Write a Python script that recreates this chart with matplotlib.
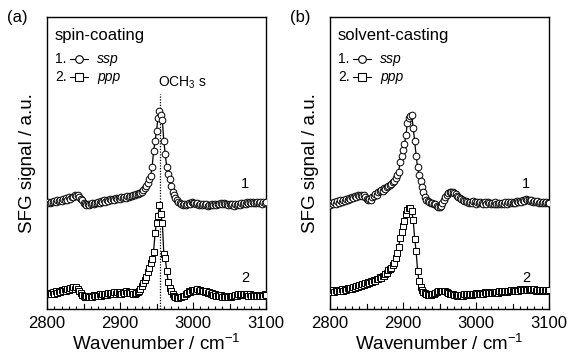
import numpy as np
import matplotlib
matplotlib.use("Agg")
import matplotlib.pyplot as plt
import matplotlib.ticker as mticker

plt.rcParams['font.family'] = ['Liberation Sans', 'DejaVu Sans']
plt.rcParams['mathtext.fontset'] = 'custom'
plt.rcParams['mathtext.rm'] = 'Liberation Sans'
plt.rcParams['mathtext.it'] = 'Liberation Sans:italic'

# wavenumber grid, 2 cm-1 step (2800 ... 3100)
wavenumber = np.arange(2800, 3101, 2)

# (a) spin-coating, offset intensities (a.u.)
spin_ssp = [
    36.2, 36.5, 36.3, 36.8, 36.6, 37.0, 36.7, 37.2, 36.9, 37.4,
    37.1, 37.6, 37.3, 37.9, 37.5, 38.2, 37.8, 38.5, 38.3, 38.9,
    38.6, 39.0, 38.4, 37.8, 37.2, 36.4, 36.0, 35.6, 35.9, 35.5,
    36.0, 36.3, 35.9, 36.4, 36.2, 36.7, 36.4, 36.9, 36.6, 37.2,
    36.8, 37.4, 37.1, 37.6, 37.3, 37.8, 37.4, 37.9, 37.6, 38.0,
    37.7, 38.2, 37.9, 38.4, 38.1, 38.6, 38.3, 38.8, 38.6, 39.1,
    39.0, 39.4, 39.3, 39.7, 39.7, 40.2, 40.6, 41.3, 42.2, 43.3,
    44.5, 45.6, 48.6, 54.0, 57.5, 61.0, 65.4, 67.8, 66.5, 64.7,
    57.5, 53.0, 48.6, 46.3, 44.6, 42.2, 40.2, 38.9, 38.0, 37.2,
    36.6, 36.2, 35.8, 35.5, 35.9, 35.6, 36.0, 36.3, 36.1, 36.5,
    36.2, 36.4, 35.9, 36.2, 35.7, 36.0, 35.6, 35.9, 35.5, 35.8,
    35.4, 35.7, 35.5, 35.9, 35.6, 36.0, 35.7, 36.1, 35.8, 36.2,
    35.9, 36.3, 35.8, 36.1, 35.6, 35.9, 35.5, 35.8, 35.4, 35.8,
    35.6, 36.0, 35.7, 36.2, 35.9, 36.4, 36.1, 36.5, 36.2, 36.6,
    36.3, 36.7, 36.4, 36.3, 36.6, 36.2, 36.5, 36.1, 36.6, 36.3,
    36.7]

spin_ppp = [
    5.4, 5.0, 5.6, 5.1, 5.8, 5.3, 6.0, 5.5, 6.2, 5.8,
    6.4, 6.0, 6.7, 6.3, 6.9, 6.5, 7.1, 6.8, 7.4, 7.0,
    7.5, 6.8, 6.2, 5.4, 4.8, 4.5, 4.2, 4.6, 4.3, 4.1,
    4.5, 4.2, 4.7, 4.3, 4.8, 4.5, 5.0, 4.6, 5.2, 4.8,
    5.3, 4.9, 5.5, 5.1, 5.6, 5.2, 5.7, 5.3, 5.8, 5.4,
    5.7, 5.3, 5.9, 5.4, 6.0, 5.5, 5.9, 5.4, 5.8, 5.2,
    5.3, 5.5, 5.8, 6.2, 7.0, 7.9, 8.9, 10.0, 11.1, 12.6,
    14.2, 15.8, 17.0, 19.5, 26.0, 29.5, 31.8, 35.6, 32.5, 29.5,
    19.0, 17.5, 13.0, 9.2, 7.3, 6.2, 5.1, 4.5, 4.1, 3.8,
    3.8, 4.2, 4.0, 4.5, 4.3, 5.0, 5.4, 6.0, 5.8, 6.4,
    6.1, 6.6, 6.3, 6.7, 6.2, 6.5, 6.0, 6.3, 5.7, 6.1,
    5.5, 5.8, 5.2, 5.5, 4.9, 5.2, 4.6, 4.9, 4.3, 4.7,
    4.2, 4.5, 4.0, 4.4, 4.1, 4.5, 4.2, 4.6, 4.3, 4.8,
    4.5, 5.0, 4.7, 5.2, 4.8, 5.3, 4.9, 5.1, 4.6, 5.0,
    4.5, 4.9, 4.4, 4.8, 4.3, 4.7, 4.4, 4.9, 4.5, 5.0,
    4.7]

# (b) solvent-casting
cast_ssp = [
    35.6, 36.2, 35.9, 36.6, 36.1, 36.9, 36.4, 37.2, 36.7, 37.4,
    37.0, 37.8, 37.3, 38.1, 37.6, 38.5, 38.0, 38.8, 38.3, 39.1,
    38.7, 39.2, 38.6, 38.9, 38.2, 37.8, 37.4, 37.8, 37.3, 38.2,
    38.6, 39.4, 39.0, 39.9, 40.3, 40.8, 40.5, 41.3, 41.0, 41.8,
    42.0, 42.5, 42.9, 43.6, 44.0, 44.8, 45.8, 47.0, 50.4, 52.5,
    54.5, 56.5, 59.5, 63.8, 65.3, 66.2, 66.4, 62.0, 57.5, 52.5,
    48.5, 45.8, 43.9, 41.9, 40.0, 38.2, 37.4, 36.9, 36.6, 36.4,
    36.2, 36.0, 35.8, 35.3, 35.1, 35.0, 35.3, 36.2, 37.3, 38.5,
    39.2, 39.8, 40.2, 40.1, 39.9, 39.6, 39.3, 38.8, 38.4, 38.0,
    37.8, 37.4, 37.1, 36.9, 36.7, 36.3, 36.8, 36.4, 36.9, 36.5,
    36.1, 36.6, 36.2, 36.7, 36.3, 36.0, 36.5, 36.1, 36.6, 36.2,
    35.9, 36.4, 36.0, 36.5, 36.1, 35.8, 36.3, 35.9, 36.4, 36.0,
    36.5, 36.1, 36.6, 36.2, 36.7, 36.3, 36.8, 36.4, 36.9, 36.6,
    37.1, 36.8, 37.4, 37.0, 37.6, 37.2, 37.5, 37.0, 37.3, 36.8,
    37.1, 36.6, 36.9, 36.4, 36.8, 36.3, 36.7, 36.2, 36.6, 36.4,
    36.4]

cast_ppp = [
    6.3, 5.8, 6.4, 5.9, 6.5, 6.0, 6.6, 6.1, 6.7, 6.3,
    6.9, 6.5, 7.1, 6.7, 7.3, 7.0, 7.6, 7.3, 7.9, 7.6,
    8.2, 7.9, 8.5, 8.2, 8.8, 8.5, 9.1, 8.9, 9.5, 9.3,
    9.9, 9.7, 10.3, 10.2, 10.8, 10.7, 11.3, 11.4, 12.1, 12.5,
    13.2, 13.6, 14.2, 14.9, 15.8, 17.3, 19.1, 21.3, 24.2, 26.5,
    28.3, 30.0, 32.4, 33.8, 34.5, 34.6, 33.5, 30.5, 24.0, 19.8,
    13.0, 9.5, 7.5, 6.5, 5.9, 5.4, 5.0, 4.8, 4.7, 4.8,
    5.0, 5.2, 5.5, 5.7, 6.0, 6.2, 6.3, 6.3, 6.2, 6.0,
    5.7, 5.5, 5.3, 5.1, 5.0, 4.9, 4.7, 4.6, 4.8, 4.5,
    4.9, 4.6, 5.0, 4.7, 5.1, 4.8, 5.2, 4.9, 5.3, 5.0,
    5.4, 5.1, 5.5, 5.2, 5.6, 5.3, 5.7, 5.4, 5.8, 5.5,
    5.9, 5.5, 5.8, 5.4, 5.9, 5.6, 6.0, 5.7, 6.1, 5.8,
    6.2, 5.9, 6.3, 6.0, 6.4, 6.1, 6.5, 6.2, 6.6, 6.3,
    6.7, 6.4, 6.8, 6.5, 6.9, 6.6, 6.9, 6.5, 6.8, 6.4,
    6.7, 6.3, 6.6, 6.2, 6.5, 6.1, 6.5, 6.2, 6.6, 6.3,
    6.5]

panels = [
    ("(a)", "spin-coating", spin_ssp, spin_ppp),
    ("(b)", "solvent-casting", cast_ssp, cast_ppp),
]
curve_label_x = [3071, 3069]
och3_pos = 2955

fig = plt.figure(figsize=(5.7, 3.57), dpi=100)
lefts = [47 / 570, 330 / 570]

for k, (tag, title, ssp, ppp) in enumerate(panels):
    ax = fig.add_axes([lefts[k], 48 / 357, 219 / 570, 292 / 357])

    ax.plot(wavenumber, ssp, color="black", lw=0.9, marker="o", ms=4.8,
            mfc="white", mec="black", mew=0.7, zorder=3)
    ax.plot(wavenumber, ppp, color="black", lw=0.9, marker="s", ms=4.2,
            mfc="white", mec="black", mew=0.7, zorder=3)

    ax.set_xlim(2800, 3100)
    ax.set_ylim(0, 100)
    ax.xaxis.set_major_locator(mticker.MultipleLocator(100))
    ax.xaxis.set_minor_locator(mticker.MultipleLocator(10))
    ax.tick_params(axis="x", which="both", direction="in", top=False,
                   labelsize=12, pad=5, width=0.8)
    ax.tick_params(axis="x", which="major", length=5)
    ax.tick_params(axis="x", which="minor", length=2.5)
    # medium ticks at every 50
    for xm in [2850, 2950, 3050]:
        ax.plot([xm, xm], [0, 1.6], color="black", lw=0.8, zorder=2)
    ax.tick_params(axis="y", left=False, labelleft=False)
    for sp in ax.spines.values():
        sp.set_linewidth(1.0)

    ax.set_xlabel("Wavenumber / cm$^{\\mathregular{-1}}$", fontsize=13.5, labelpad=2)
    ax.set_ylabel("SFG signal / a.u.", fontsize=13.5, labelpad=8)

    # panel title and legend
    ax.text(0.0365, 0.938, title, transform=ax.transAxes, fontsize=12,
            va="center", ha="left")
    rows = [(0.855, "1.", "o", "ssp"), (0.793, "2.", "s", "ppp")]
    for yr, num, mk, name in rows:
        ax.text(0.0365, yr, num, transform=ax.transAxes, fontsize=10,
                va="center", ha="left")
        ax.plot([0.105, 0.187], [yr, yr], transform=ax.transAxes,
                color="black", lw=0.8, clip_on=False)
        ax.plot([0.146], [yr], transform=ax.transAxes, marker=mk, ms=5.5,
                mfc="white", mec="black", mew=0.8, clip_on=False)
        ax.text(0.228, yr, name, transform=ax.transAxes, fontsize=10,
                style="italic", va="center", ha="left")

    ax.text(curve_label_x[k], 42.8, "1", fontsize=10.5, ha="center", va="center")
    ax.text(curve_label_x[k], 10.6, "2", fontsize=10.5, ha="center", va="center")

    if k == 0:
        ax.plot([och3_pos, och3_pos], [0, 73.5], color="black", lw=0.9,
                ls=(0, (1, 1.2)), zorder=1)
        ax.text(och3_pos - 3, 74.5, "OCH$_{\\mathregular{3}}$ s", fontsize=10,
                ha="left", va="bottom")

    fig.text(lefts[k] - 40 / 570, 0.95, tag, fontsize=12, ha="left", va="center")

fig.savefig("out.png", dpi=100)
